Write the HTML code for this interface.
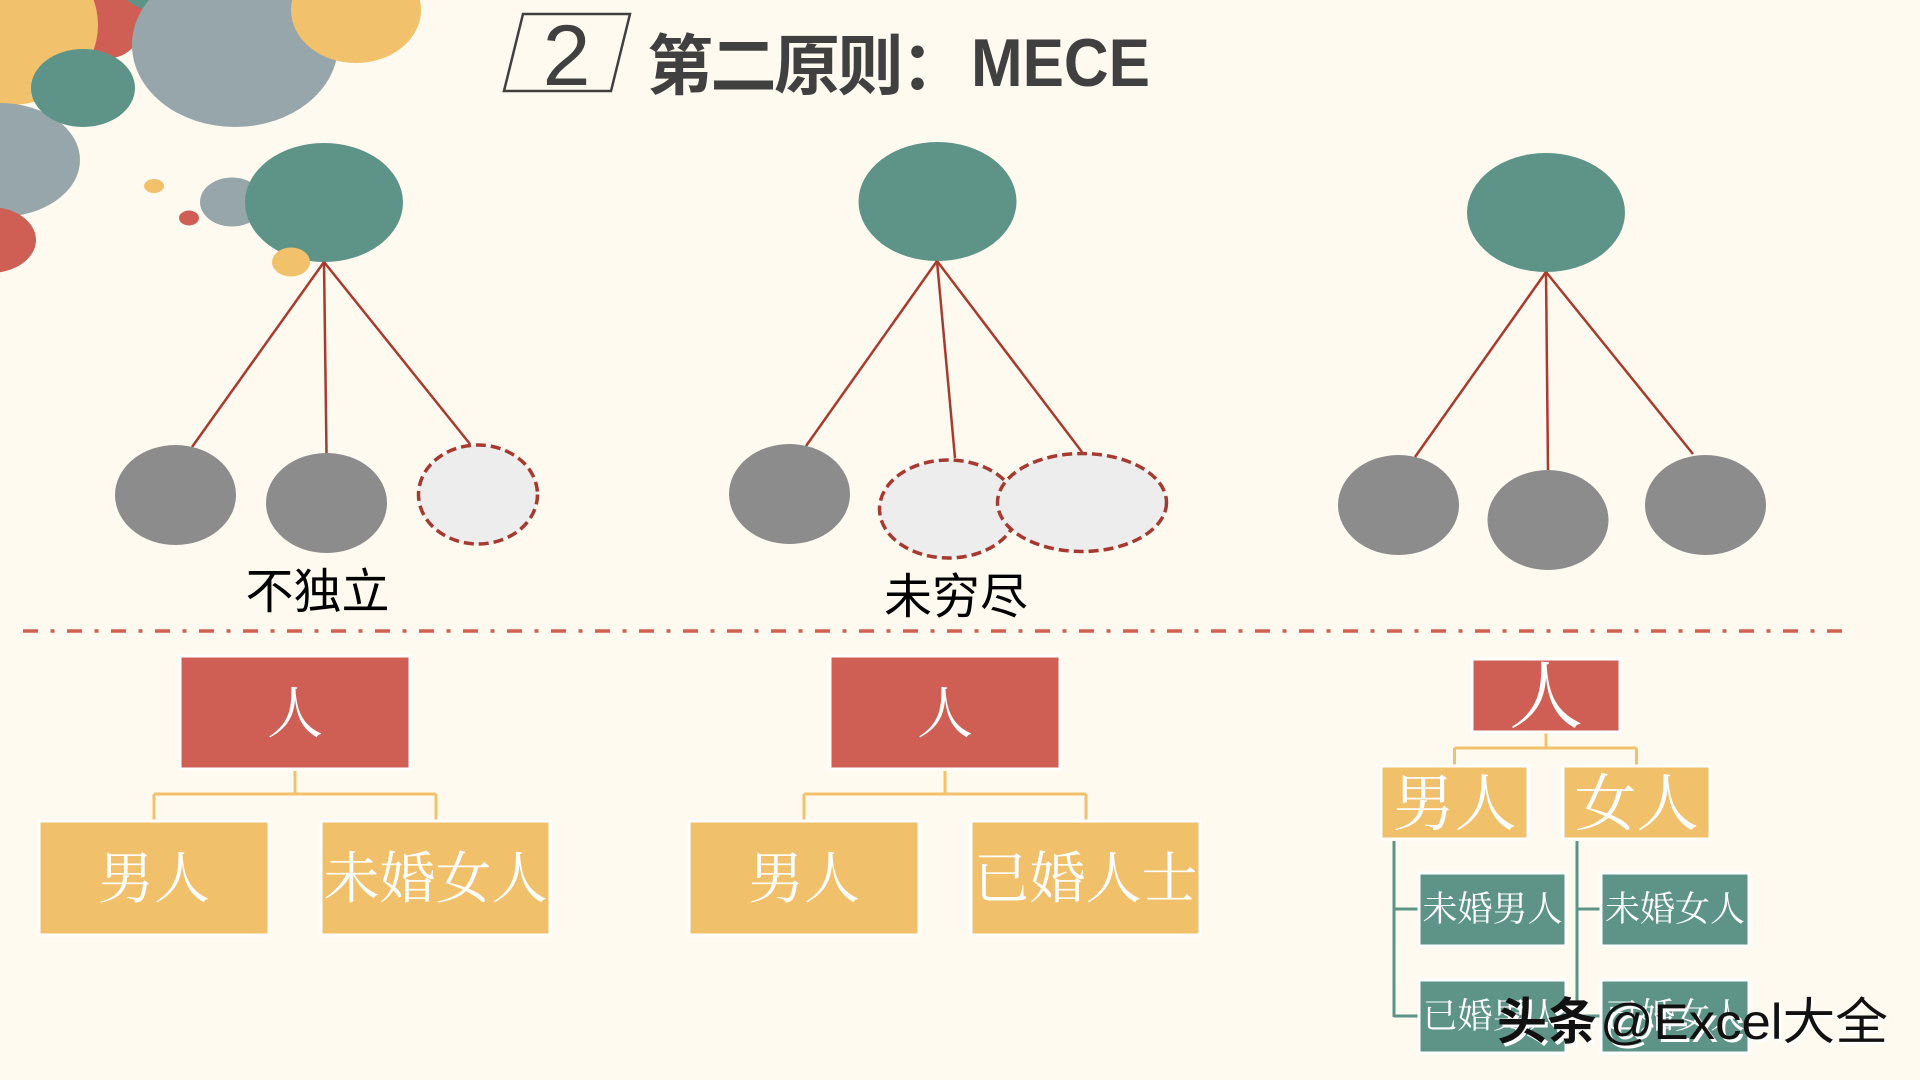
<!DOCTYPE html>
<html>
<head>
<meta charset="utf-8">
<style>
html,body{margin:0;padding:0;background:#FFFAF0;}
svg{display:block;}
.cjk{font-family:"Liberation Sans","Noto Sans CJK SC",sans-serif;}
.serif{font-family:"Liberation Serif","Noto Serif CJK SC",serif;fill:#fff;}
</style>
</head>
<body>
<svg width="1920" height="1080" viewBox="0 0 1920 1080" xmlns="http://www.w3.org/2000/svg">
<rect x="0" y="0" width="1920" height="1080" fill="#FFFAF0"/>

<!-- decorative bubbles -->
<ellipse cx="110" cy="0" rx="40" ry="58" fill="#CF5F55"/>
<ellipse cx="10" cy="25" rx="88" ry="80" fill="#F2C16B"/>
<ellipse cx="165" cy="-25" rx="50" ry="38" fill="#5E9488"/>
<ellipse cx="235" cy="45" rx="103" ry="82" fill="#97A6AA"/>
<ellipse cx="356" cy="10" rx="65" ry="53" fill="#F2C16B"/>
<ellipse cx="0" cy="160" rx="80" ry="57" fill="#97A6AA"/>
<ellipse cx="83" cy="88" rx="52" ry="39" fill="#5E9488"/>
<ellipse cx="-10" cy="240" rx="46" ry="33" fill="#CF5F55"/>
<ellipse cx="154" cy="186" rx="10" ry="7" fill="#F2C16B"/>
<ellipse cx="189" cy="218" rx="10" ry="7.5" fill="#CF5F55"/>
<ellipse cx="232" cy="202" rx="32" ry="24.5" fill="#97A6AA"/>

<!-- title -->
<polygon points="523,14 630,14 611,91 504,91" fill="none" stroke="#404040" stroke-width="2.5"/>
<text x="566.5" y="85" text-anchor="middle" font-family="Liberation Sans, sans-serif" font-size="86" fill="#404040">2</text>
<text x="647" y="89" class="cjk" font-size="66" font-weight="bold" letter-spacing="-2.5" fill="#404040">第二原则：</text>
<text x="971" y="86" font-family="Liberation Sans, sans-serif" font-size="68" font-weight="bold" fill="#404040" textLength="179" lengthAdjust="spacingAndGlyphs">MECE</text>

<!-- Section 1: 不独立 -->
<ellipse cx="324" cy="202.5" rx="79" ry="59.5" fill="#5E9488"/>
<ellipse cx="291" cy="262" rx="19" ry="14.5" fill="#F2C16B"/>
<g stroke="#A93A2E" stroke-width="2.5">
<line x1="324" y1="262" x2="192" y2="447"/>
<line x1="324" y1="262" x2="326.5" y2="453"/>
<line x1="324" y1="262" x2="470" y2="444"/>
</g>
<ellipse cx="175.5" cy="495" rx="60.5" ry="50" fill="#8C8C8C"/>
<ellipse cx="326.5" cy="503" rx="60.5" ry="50" fill="#8C8C8C"/>
<ellipse cx="478" cy="494.5" rx="59.5" ry="49.5" fill="#EDEDED" stroke="#A63A30" stroke-width="3.5" stroke-dasharray="10 5"/>
<text x="317.5" y="608" text-anchor="middle" class="cjk" font-size="48" fill="#000">不独立</text>

<!-- Section 2: 未穷尽 -->
<ellipse cx="937.5" cy="201.5" rx="79" ry="59.5" fill="#5E9488"/>
<g stroke="#A93A2E" stroke-width="2.5">
<line x1="937" y1="261" x2="806" y2="446"/>
<line x1="937" y1="261" x2="955" y2="458"/>
<line x1="937" y1="261" x2="1082" y2="452"/>
</g>
<ellipse cx="789.5" cy="494" rx="60.5" ry="50" fill="#8C8C8C"/>
<ellipse cx="948.5" cy="509" rx="69" ry="49" fill="#EDEDED" stroke="#A63A30" stroke-width="3.5" stroke-dasharray="10 5"/>
<ellipse cx="1082" cy="502.5" rx="84.5" ry="49" fill="#EDEDED" stroke="#A63A30" stroke-width="3.5" stroke-dasharray="10 5"/>
<text x="956" y="613" text-anchor="middle" class="cjk" font-size="48" fill="#000">未穷尽</text>

<!-- Section 3 -->
<ellipse cx="1546" cy="212.5" rx="79" ry="59.5" fill="#5E9488"/>
<g stroke="#A93A2E" stroke-width="2.5">
<line x1="1546" y1="272" x2="1415" y2="457"/>
<line x1="1546" y1="272" x2="1548" y2="470"/>
<line x1="1546" y1="272" x2="1693" y2="454"/>
</g>
<ellipse cx="1398.5" cy="505" rx="60.5" ry="50" fill="#8C8C8C"/>
<ellipse cx="1548" cy="520" rx="60.5" ry="50" fill="#8C8C8C"/>
<ellipse cx="1705.5" cy="505" rx="60.5" ry="50" fill="#8C8C8C"/>

<!-- separator -->
<line x1="23" y1="631" x2="1843" y2="631" stroke="#D0604F" stroke-width="3.5" stroke-dasharray="15 12.5 4 12.5"/>

<!-- Bottom left tree -->
<g stroke="#F2C16B" stroke-width="3" fill="none">
<path d="M295 771 V794 M154 794 H436 M154 794 V821 M436 794 V821"/>
</g>
<rect x="180" y="656" width="230" height="113" fill="#CF5F55" stroke="#fff" stroke-width="3"/>
<rect x="39" y="821" width="230" height="114" fill="#F1C06B" stroke="#fff" stroke-width="3"/>
<rect x="321" y="821" width="229" height="114" fill="#F1C06B" stroke="#fff" stroke-width="3"/>
<text x="295" y="733" text-anchor="middle" class="serif" font-size="56">人</text>
<text x="154" y="898" text-anchor="middle" class="serif" font-size="56">男人</text>
<text x="435.5" y="898" text-anchor="middle" class="serif" font-size="56">未婚女人</text>

<!-- Bottom middle tree -->
<g stroke="#F2C16B" stroke-width="3" fill="none">
<path d="M945 771 V794 M804 794 H1086 M804 794 V821 M1086 794 V821"/>
</g>
<rect x="830" y="656" width="230" height="113" fill="#CF5F55" stroke="#fff" stroke-width="3"/>
<rect x="689" y="821" width="230" height="114" fill="#F1C06B" stroke="#fff" stroke-width="3"/>
<rect x="971" y="821" width="229" height="114" fill="#F1C06B" stroke="#fff" stroke-width="3"/>
<text x="945" y="733" text-anchor="middle" class="serif" font-size="56">人</text>
<text x="804" y="898" text-anchor="middle" class="serif" font-size="56">男人</text>
<text x="1085.5" y="898" text-anchor="middle" class="serif" font-size="56">已婚人士</text>

<!-- Bottom right tree -->
<g stroke="#F2C16B" stroke-width="3" fill="none">
<path d="M1546 733 V748 M1454.5 748 H1636.5 M1454.5 748 V766 M1636.5 748 V766"/>
</g>
<g stroke="#5E9488" stroke-width="3" fill="none">
<path d="M1394 841 V1017 M1394 909 H1419 M1394 1016 H1419"/>
<path d="M1577 841 V1017 M1577 909 H1601 M1577 1016 H1601"/>
</g>
<rect x="1472" y="659" width="148" height="73" fill="#CF5F55" stroke="#fff" stroke-width="3"/>
<rect x="1381" y="766" width="147" height="73" fill="#F1C06B" stroke="#fff" stroke-width="3"/>
<rect x="1563" y="766" width="147" height="73" fill="#F1C06B" stroke="#fff" stroke-width="3"/>
<rect x="1419" y="873" width="147" height="73" fill="#5E9488" stroke="#fff" stroke-width="3"/>
<rect x="1601" y="873" width="148" height="73" fill="#5E9488" stroke="#fff" stroke-width="3"/>
<rect x="1419" y="980" width="147" height="73" fill="#5E9488" stroke="#fff" stroke-width="3"/>
<rect x="1601" y="980" width="148" height="73" fill="#5E9488" stroke="#fff" stroke-width="3"/>
<text x="1546" y="722" text-anchor="middle" class="serif" font-size="74">人</text>
<text x="1454.5" y="825" text-anchor="middle" class="serif" font-size="62">男人</text>
<text x="1636.5" y="825" text-anchor="middle" class="serif" font-size="62">女人</text>
<text x="1492.5" y="921" text-anchor="middle" class="serif" font-size="35">未婚男人</text>
<text x="1675" y="921" text-anchor="middle" class="serif" font-size="35">未婚女人</text>
<text x="1492.5" y="1028" text-anchor="middle" class="serif" font-size="35">已婚男人</text>
<text x="1675" y="1028" text-anchor="middle" class="serif" font-size="35">已婚女人</text>

<!-- watermark -->
<g class="cjk" font-size="50">
<text x="1500" y="1042" font-weight="bold" fill="#fff">头条</text>
<text x="1603" y="1042" fill="#fff" textLength="288" lengthAdjust="spacingAndGlyphs">@Excel大全</text>
<text x="1497" y="1039" font-weight="bold" fill="#111">头条</text>
<text x="1600" y="1039" fill="#111" textLength="288" lengthAdjust="spacingAndGlyphs">@Excel大全</text>
</g>
</svg>
</body>
</html>
